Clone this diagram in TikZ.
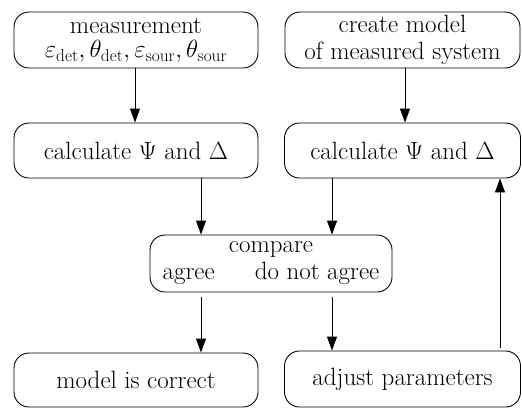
\documentclass[tikz,border=0pt]{standalone}
\usetikzlibrary{arrows.meta}
\begin{document}
\begin{tikzpicture}[x=1pt,y=-1pt,
  box/.style={draw, rounded corners=15pt, line width=0.9pt, align=center, inner sep=0pt,
    font=\fontsize{25}{27}\selectfont},
  arr/.style={-{Triangle[length=14pt,width=10pt]}, line width=0.9pt}]
\useasboundingbox (0,0) rectangle (522,408);
\node[box, minimum width=244pt, minimum height=56pt] (meas) at (136,40)
  {measurement\\[-3pt]$\varepsilon_{\mathrm{det}},\theta_{\mathrm{det}},\varepsilon_{\mathrm{sour}},\theta_{\mathrm{sour}}$};
\node[box, minimum width=235pt, minimum height=56pt] (model) at (402.5,40)
  {create model\\of measured system};
\node[box, minimum width=244pt, minimum height=55pt] (calcL) at (136,150.5)
  {calculate {\fontsize{23}{26}\selectfont$\Psi$} and {\fontsize{23}{26}\selectfont$\Delta$}};
\node[box, minimum width=236pt, minimum height=55pt] (calcR) at (402.5,150.5)
  {calculate {\fontsize{23}{26}\selectfont$\Psi$} and {\fontsize{23}{26}\selectfont$\Delta$}};
\node[box, minimum width=242pt, minimum height=57pt] (cmp) at (271,263.5)
  {compare\\agree\hspace{1.6em}do not agree};
\node[box, minimum width=244pt, minimum height=54pt] (ok) at (136,380)
  {model is correct};
\node[box, minimum width=236pt, minimum height=56pt] (adj) at (402.5,379)
  {adjust parameters};
\coordinate (xa) at (135,0);
\coordinate (xb) at (405,0);
\coordinate (xc) at (201,0);
\coordinate (xd) at (332,0);
\coordinate (xe) at (500,0);
\draw[arr] (meas.south -| xa) -- (calcL.north -| xa);
\draw[arr] (model.south -| xb) -- (calcR.north -| xb);
\draw[arr] (calcL.south -| xc) -- (cmp.north -| xc);
\draw[arr] (calcR.south -| xd) -- (cmp.north -| xd);
\draw[arr, shorten <=5pt] (cmp.south -| xc) -- (ok.north -| xc);
\draw[arr, shorten <=5pt] (cmp.south -| xd) -- (adj.north -| xd);
\draw[arr, shorten <=3pt] (adj.north -| xe) -- (calcR.south -| xe);
\end{tikzpicture}
\end{document}
